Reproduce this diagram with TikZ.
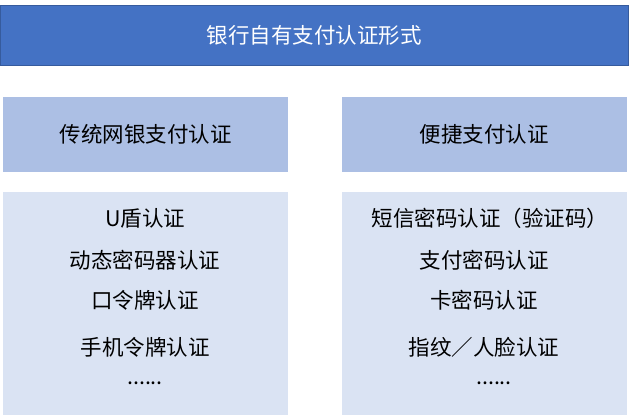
\documentclass[tikz,border=0pt]{standalone}
\usepackage{fontspec}
\setmainfont{Noto Sans CJK SC}
\usetikzlibrary{positioning}
\definecolor{TopBlue}{RGB}{68, 114, 196}
\definecolor{MidBlue}{RGB}{172, 191, 228}
\definecolor{LightBlue}{RGB}{218, 227, 243}
\tikzset{
    headbox/.style={fill=MidBlue, draw=none, minimum width=285pt, minimum height=75pt, font=\fontsize{21.5}{24}\selectfont},
    listbox/.style={fill=LightBlue, draw=none, minimum width=285pt, minimum height=223pt},
    item/.style={font=\fontsize{21.5}{24}\selectfont}
}
\begin{document}
\begin{tikzpicture}[x=1pt,y=-1pt]
    \useasboundingbox (0,0) rectangle (640,418);
    % Top bar
    \node[fill=TopBlue, draw=TopBlue!80!black, minimum width=628pt, minimum height=60pt, text=white, font=\fontsize{21.5}{24}\selectfont] (top) at (314,35) {银行自有支付认证形式};

    % Column heads
    \node[headbox] (left) at (145.5,134.5) {传统网银支付认证};
    \node[headbox] (right) at (484,134.5) {便捷支付认证};

    % Lists
    \node[listbox] (leftlist) at (145.5,303.5) {};
    \node[listbox] (rightlist) at (484,303.5) {};

    \node[item] (l1) at (145,218) {U盾认证};
    \node[item] (l2) at (145,260) {动态密码器认证};
    \node[item] (l3) at (145,300) {口令牌认证};
    \node[item] (l4) at (145,347) {手机令牌认证};
    \node[item] (l5) at (145,383) {......};

    \node[item] (r1) at (490,218) {短信密码认证（验证码）};
    \node[item] (r2) at (484,260) {支付密码认证};
    \node[item] (r3) at (484,300) {卡密码认证};
    \node[item] (r4) at (484,347) {指纹／人脸认证};
    \node[item] (r5) at (494,383) {......};
\end{tikzpicture}
\end{document}
